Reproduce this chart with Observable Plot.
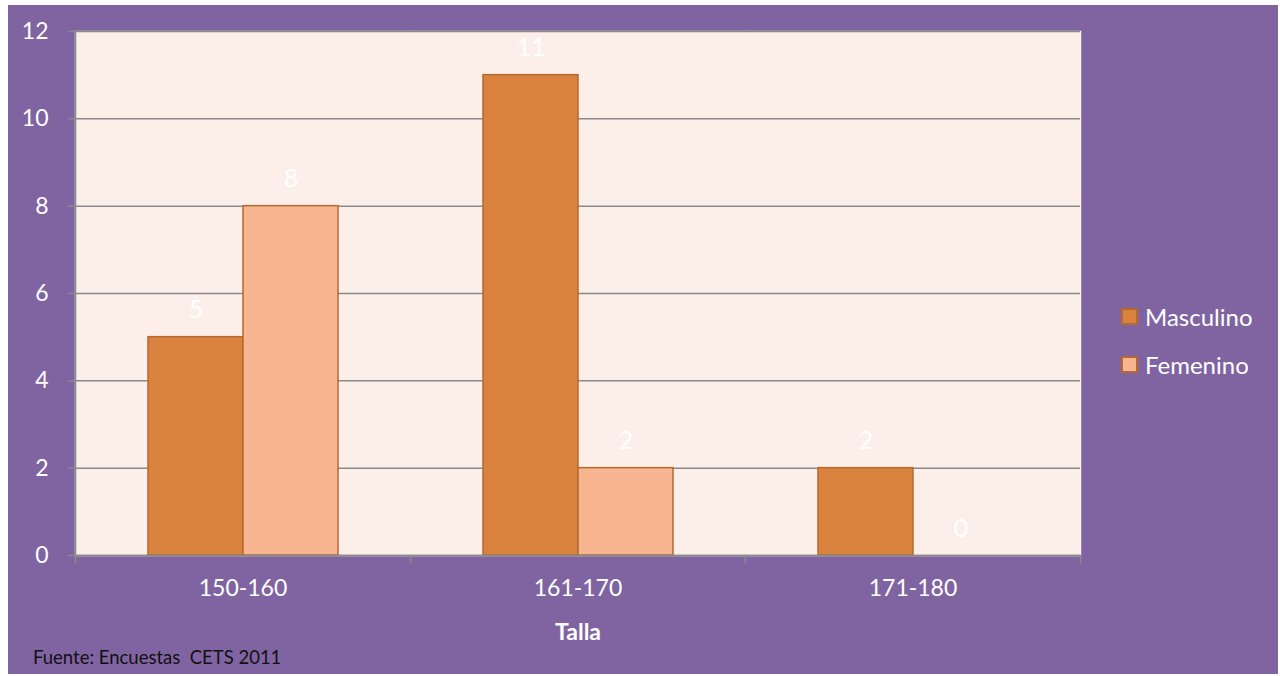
<!DOCTYPE html>
<html>
<head>
<meta charset="utf-8">
<script src="https://cdn.jsdelivr.net/npm/d3@7"></script>
<script src="https://cdn.jsdelivr.net/npm/@observablehq/plot@0.6"></script>
<style>
  html, body { margin: 0; padding: 0; background: #ffffff; }
  #card {
    position: absolute; left: 8px; top: 5px; width: 1270px; height: 669px;
    background: #8064A2; font-family: Lato, "Open Sans", sans-serif; overflow: hidden;
  }
  #chart { position: absolute; left: 0; top: 0; }
  #chart svg { background: transparent; }
  #chart [aria-label="fx-axis label"] text { font-weight: bold; }
  #legend { position: absolute; left: 1113px; top: 297px; color: #fff; font-size: 24px; }
  #legend .item { display: flex; align-items: center; height: 28px; margin-bottom: 20px; }
  #legend .sw { width: 13px; height: 13px; border: 2px solid #B5692E; margin-right: 7px; }
  #caption { position: absolute; left: 25px; top: 641px; font-size: 18.5px; color: #111; }
</style>
</head>
<body>
<div id="card">
  <div id="chart"></div>
  <div id="legend"></div>
  <div id="caption">Fuente: Encuestas&nbsp; CETS 2011</div>
</div>
<script>
const tallas = ["150-160", "161-170", "171-180"];
const sexos = ["Masculino", "Femenino"];
const masculino = [5, 11, 2];
const femenino = [8, 2, 0];
const colores = ["#D9833E", "#F8B592"];
const yTicks = [0, 2, 4, 6, 8, 10, 12];

const data = [];
tallas.forEach((t, i) => {
  data.push({talla: t, sexo: sexos[0], n: masculino[i]});
  data.push({talla: t, sexo: sexos[1], n: femenino[i]});
});

const W = 1100, H = 645;
const mT = 26, mB = 95, mL = 66, mR = 28;
const plotH = H - mT - mB;
const grey = "#8a8a8a";
const plotBg = "#FCEEE9";

const chart = Plot.plot({
  width: W, height: H,
  marginTop: mT, marginBottom: mB, marginLeft: mL, marginRight: mR,
  style: {fontFamily: "Lato, 'Open Sans', sans-serif", background: "transparent", overflow: "visible"},
  fx: {domain: tallas, padding: 0, paddingOuter: 0},
  x: {domain: sexos, paddingInner: 0, paddingOuter: 0.745, axis: null},
  y: {domain: [0, 12]},
  color: {domain: sexos, range: colores},
  marks: [
    Plot.frame({fill: plotBg, stroke: plotBg, strokeWidth: 1.5}),
    Plot.gridY(yTicks, {stroke: grey, strokeOpacity: 1, strokeWidth: 1.5}),
    Plot.barY(data.filter(d => d.n > 0), {fx: "talla", x: "sexo", y: "n", fill: "sexo", stroke: "#B5692E", strokeWidth: 1.5}),
    Plot.ruleY([0], {stroke: grey, strokeWidth: 1.5}),
    Plot.frame({anchor: "left", stroke: grey, strokeWidth: 1.5, facetAnchor: "left", insetBottom: -7}),
    Plot.frame({anchor: "right", stroke: grey, strokeWidth: 1.5, insetTop: plotH, insetBottom: -7}),
    Plot.text(data, {fx: "talla", x: "sexo", y: "n", text: d => String(d.n), dy: -27, fill: "white", fontSize: 25}),
    Plot.axisY(yTicks, {tickSize: 7, tickPadding: 20, stroke: grey, strokeWidth: 1.5, fill: "white", fontSize: 23, label: null}),
    Plot.axisFx({anchor: "bottom", tickSize: 0, tickPadding: 24, fill: "white", fontSize: 23,
      label: "Talla", labelAnchor: "center", labelOffset: 84, labelArrow: "none"})
  ]
});
document.getElementById("chart").appendChild(chart);

const legend = d3.select("#legend");
sexos.forEach((s, i) => {
  const item = legend.append("div").attr("class", "item");
  item.append("div").attr("class", "sw").style("background", colores[i]);
  item.append("span").text(s);
});
</script>
</body>
</html>
